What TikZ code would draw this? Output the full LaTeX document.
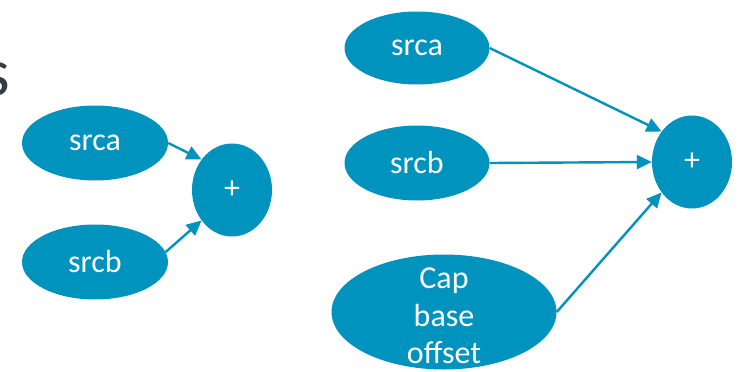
\documentclass[tikz,border=0pt]{standalone}
\usepackage{fontspec}
\setmainfont{Carlito}
\usetikzlibrary{shapes.geometric,arrows.meta}
\definecolor{teal}{RGB}{0,147,190}
\definecolor{darkgray}{RGB}{55,60,68}
\begin{document}
\begin{tikzpicture}[x=1pt,y=-1pt,
  blob/.style={ellipse,fill=teal,draw=none,inner sep=0pt,text=white,font=\fontsize{32}{38}\selectfont},
  lbl/.style={text=white,font=\fontsize{32}{37.5}\selectfont,align=center,inner sep=0pt},
  arr/.style={draw=teal,line width=2.4pt,-{Triangle[length=15pt,width=14pt]}}]
\clip (0,0) rectangle (742,372);
\useasboundingbox (0,0) rectangle (742,372);
% partial title letter
\node[anchor=base east,text=darkgray,inner sep=0pt,font=\fontsize{68}{80}\selectfont] (title) at (10,95) {s};
% left group
\node[blob,minimum width=146pt,minimum height=75pt] (la) at (95,143) {srca};
\node[blob,minimum width=146pt,minimum height=75pt] (lb) at (95,262) {srcb};
\node[blob,minimum width=80pt,minimum height=93pt] (lp) at (232,190) {+};
\draw[arr] (la.east) -- (lp.135);
\draw[arr] (lb.8) -- (lp.225);
% right group
\node[blob,minimum width=145pt,minimum height=73pt] (ra) at (417,48) {srca};
\node[blob,minimum width=145pt,minimum height=75pt] (rb) at (417,163) {srcb};
\node[blob,minimum width=225pt,minimum height=115pt] (cap) at (444,312) {};
\node[lbl] (captext) at (444,316) {Cap\\base\\offset};
\node[blob,minimum width=80pt,minimum height=93pt] (rp) at (692,162) {+};
\draw[arr] (ra.east) -- (rp.135);
\draw[arr] (rb.east) -- (rp.west);
\draw[arr] (cap.east) -- (rp.225);
\end{tikzpicture}
\end{document}
